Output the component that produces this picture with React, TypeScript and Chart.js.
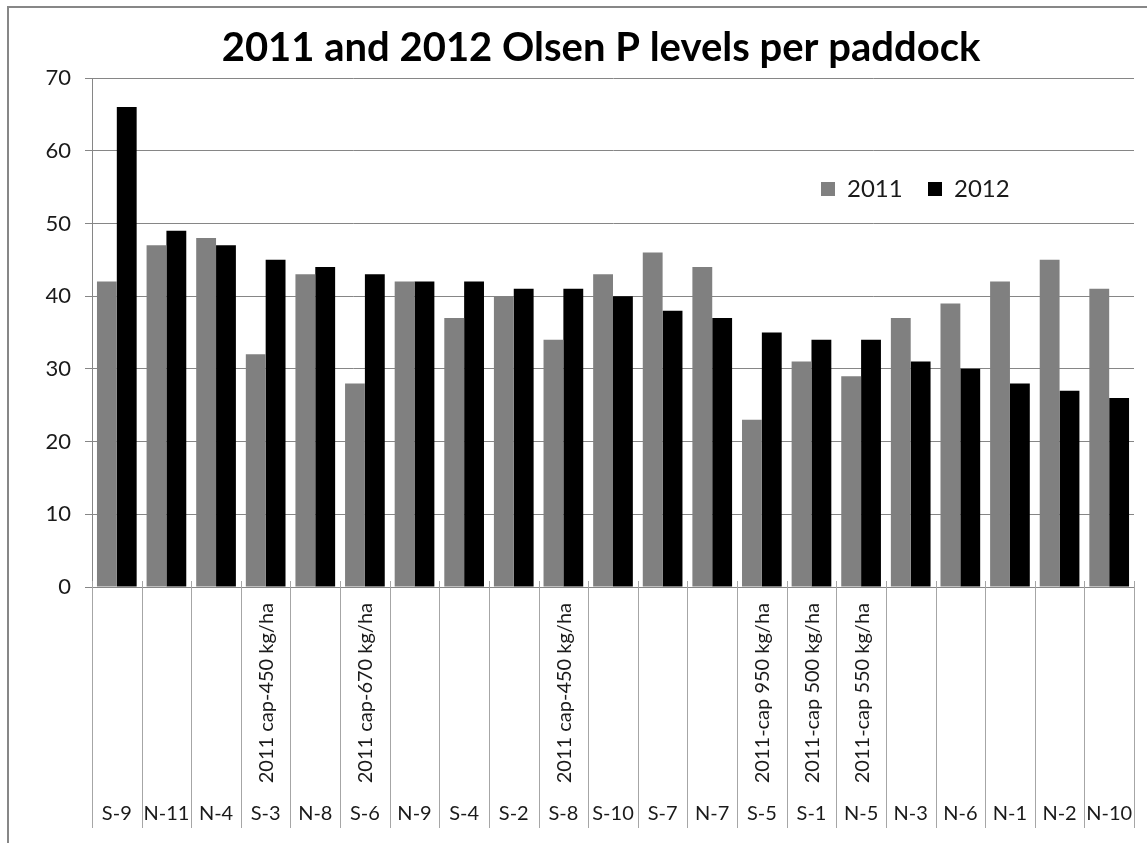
import React, { useEffect, useRef } from 'react';
import { Chart, registerables } from 'chart.js';

Chart.register(...registerables);

const chartTitle = '2011 and 2012 Olsen P levels per paddock';
const categories = ['S-9', 'N-11', 'N-4', 'S-3', 'N-8', 'S-6', 'N-9', 'S-4', 'S-2', 'S-8', 'S-10', 'S-7', 'N-7', 'S-5', 'S-1', 'N-5', 'N-3', 'N-6', 'N-1', 'N-2', 'N-10'];
const capLabels = ['', '', '', '2011 cap-450 kg/ha', '', '2011 cap-670 kg/ha', '', '', '', '2011 cap-450 kg/ha', '', '', '', '2011-cap 950 kg/ha', '2011-cap 500 kg/ha', '2011-cap 550 kg/ha', '', '', '', '', ''];
const series2011 = [42, 47, 48, 32, 43, 28, 42, 37, 40, 34, 43, 46, 44, 23, 31, 29, 37, 39, 42, 45, 41];
const series2012 = [66, 49, 47, 45, 44, 43, 42, 42, 41, 41, 40, 38, 37, 35, 34, 34, 31, 30, 28, 27, 26];
const seriesNames = ['2011', '2012'];
const yMin = 0;
const yMax = 70;
const yStep = 10;

const FONT = 'Lato, "Open Sans", "DejaVu Sans", sans-serif';
const GRID = '#868686';
const SEP = '#a6a6a6';

const decorPlugin = {
  id: 'decor',
  beforeDraw(chart: any) {
    const { ctx, width, height } = chart;
    ctx.save();
    ctx.fillStyle = '#ffffff';
    ctx.fillRect(0, 0, width, height);
    ctx.strokeStyle = '#878787';
    ctx.lineWidth = 2;
    ctx.beginPath();
    ctx.moveTo(8, height + 2);
    ctx.lineTo(8, 7);
    ctx.lineTo(width + 2, 7);
    ctx.stroke();
    ctx.restore();
  },
  afterDraw(chart: any) {
    const { ctx, chartArea } = chart;
    const x = chart.scales.x;
    const n = categories.length;
    const step = x.getPixelForValue(1) - x.getPixelForValue(0);
    ctx.save();
    // category separators
    ctx.strokeStyle = SEP;
    ctx.lineWidth = 1;
    for (let i = 0; i <= n; i++) {
      const px = Math.round(x.getPixelForValue(0) - step / 2 + i * step) + 0.5;
      ctx.beginPath();
      ctx.moveTo(px, chartArea.bottom - 6);
      ctx.lineTo(px, 828);
      ctx.stroke();
    }
    // category labels
    ctx.fillStyle = '#1a1a1a';
    ctx.font = `20px ${FONT}`;
    ctx.textAlign = 'center';
    ctx.textBaseline = 'alphabetic';
    categories.forEach((c, i) => {
      ctx.fillText(c, x.getPixelForValue(i), 820);
    });
    // rotated cap labels
    capLabels.forEach((c, i) => {
      if (!c) return;
      ctx.save();
      ctx.translate(x.getPixelForValue(i) + 1, 603);
      ctx.rotate(-Math.PI / 2);
      ctx.textAlign = 'right';
      ctx.textBaseline = 'middle';
      ctx.fillText(c, 0, 0);
      ctx.restore();
    });
    // title
    ctx.fillStyle = '#000000';
    ctx.font = `bold 40px ${FONT}`;
    ctx.textAlign = 'center';
    ctx.textBaseline = 'alphabetic';
    ctx.fillText(chartTitle, 601, 61);
    // legend
    const legendX = [821, 928];
    ctx.font = `24px ${FONT}`;
    ctx.textAlign = 'left';
    ctx.textBaseline = 'middle';
    chart.data.datasets.forEach((ds: any, i: number) => {
      ctx.fillStyle = ds.backgroundColor;
      ctx.fillRect(legendX[i], 182, 14, 14);
      ctx.fillStyle = '#1a1a1a';
      ctx.fillText(ds.label, legendX[i] + 26, 189);
    });
    ctx.restore();
  },
};

export default function App() {
  const ref = useRef<HTMLCanvasElement | null>(null);
  useEffect(() => {
    if (!ref.current) return;
    const chart = new Chart(ref.current, {
      type: 'bar',
      data: {
        labels: categories,
        datasets: [
          { label: seriesNames[0], data: series2011, backgroundColor: '#808080', borderWidth: 0 },
          { label: seriesNames[1], data: series2012, backgroundColor: '#000000', borderWidth: 0 },
        ],
      },
      options: {
        responsive: false,
        animation: false,
        layout: { padding: { top: 78, right: 13, left: 0, bottom: 0 } },
        datasets: { bar: { categoryPercentage: 0.8, barPercentage: 1.0 } },
        plugins: {
          legend: { display: false },
          title: { display: false },
          tooltip: { enabled: false },
        },
        scales: {
          x: {
            grid: { display: false },
            ticks: { display: false },
            border: { display: true, color: GRID, width: 1 },
            afterFit: (s: any) => { s.height = 256; },
          },
          y: {
            min: yMin,
            max: yMax,
            ticks: {
              stepSize: yStep,
              color: '#1a1a1a',
              padding: 14,
              font: { family: FONT, size: 22 },
            },
            grid: { color: GRID, tickLength: 7, drawTicks: true },
            border: { display: true, color: GRID, width: 1 },
            afterFit: (s: any) => { s.width = 92; },
          },
        },
      },
      plugins: [decorPlugin],
    });
    return () => chart.destroy();
  }, []);
  return (
    <div style={{ position: 'fixed', left: 0, top: 0, width: 1147, height: 843, background: '#fff' }}>
      <canvas ref={ref} width={1147} height={843} style={{ display: 'block', width: 1147, height: 843 }} />
    </div>
  );
}
